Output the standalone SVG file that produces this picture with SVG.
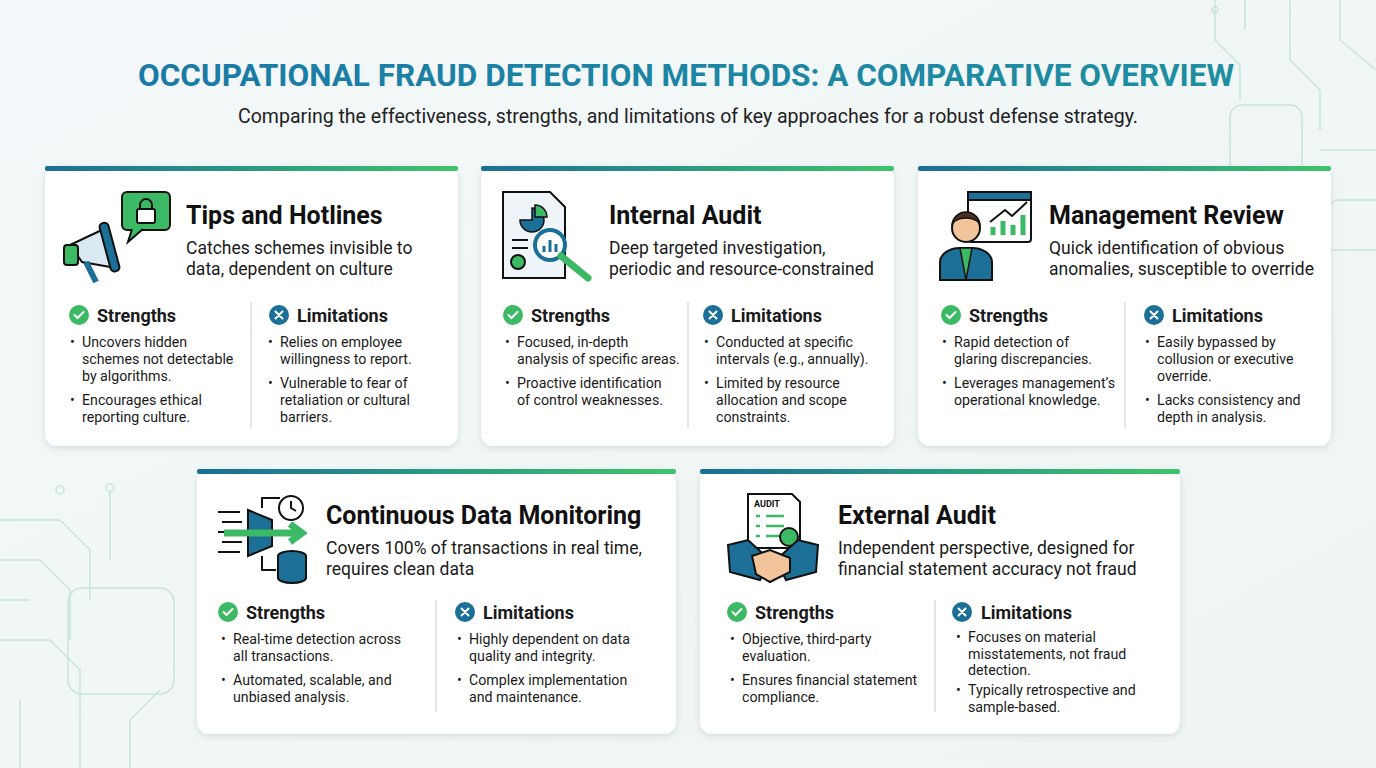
<svg xmlns="http://www.w3.org/2000/svg" width="1376" height="768" viewBox="0 0 1376 768">
<defs>
<linearGradient id="bg" x1="0" y1="0" x2="1" y2="1"><stop offset="0" stop-color="#f3f7f9"/><stop offset="1" stop-color="#eef5f3"/></linearGradient>
<linearGradient id="bar" x1="0" y1="0" x2="1" y2="0"><stop offset="0" stop-color="#1a6e96"/><stop offset="1" stop-color="#3ec46c"/></linearGradient>
<linearGradient id="ttl" x1="0" y1="0" x2="1" y2="0"><stop offset="0" stop-color="#1a7aa6"/><stop offset="1" stop-color="#1f8fa0"/></linearGradient>
<filter id="sh" x="-5%" y="-5%" width="110%" height="115%"><feDropShadow dx="0" dy="2" stdDeviation="3" flood-color="#8aa0a8" flood-opacity="0.3"/></filter>
<g id="chk"><circle r="10" fill="#3cb964"/><path d="M-4.5 0 L-1.5 3 L4.5 -3" stroke="#fff" stroke-width="2" fill="none" stroke-linecap="round"/></g>
<g id="xx"><circle r="10" fill="#1c6f96"/><path d="M-3.5 -3.5 L3.5 3.5 M3.5 -3.5 L-3.5 3.5" stroke="#fff" stroke-width="2" stroke-linecap="round"/></g>
</defs>
<style>
.card{fill:#fff}
.t{font-family:Roboto,"Liberation Sans",sans-serif;font-weight:bold;font-size:25px;fill:#111}
.s{font-family:Roboto,"Liberation Sans",sans-serif;font-size:17.5px;fill:#1a1a1a}
.h{font-family:Roboto,"Liberation Sans",sans-serif;font-weight:bold;font-size:18px;fill:#1a1a1a}
.b{font-family:Roboto,"Liberation Sans",sans-serif;font-size:14.2px;fill:#1a1a1a}
.dv{stroke:#dcdcdc;stroke-width:1.5}
.ck{fill:none;stroke:#bfe0d6;stroke-width:1.5}
.ln{fill:none;stroke:#111;stroke-width:2;stroke-linejoin:round}
</style>
<rect width="1376" height="768" fill="url(#bg)"/>
<g class="ck" opacity="0.8">
<path d="M0 520 H60 L90 550 V600 M0 560 H40 L70 590 V640 M0 600 H30 M0 640 H50 L80 670 V768 M20 768 V700 M110 490 V560 M130 768 V720 L160 690"/>
<rect x="68" y="588" width="106" height="106" rx="14"/>
<path d="M1215 0 V40 L1240 65 V100 M1245 0 V30 M1290 0 V60 L1320 90 V130 M1340 0 V40 L1376 70 M1376 150 H1320 M1376 200 H1335 L1310 225 M1376 250 H1320"/>
<rect x="1230" y="105" width="72" height="90" rx="12"/>
<circle cx="60" cy="490" r="4"/><circle cx="110" cy="488" r="4"/><circle cx="1215" cy="10" r="3"/>
</g>
<text x="138" y="86" textLength="1096" lengthAdjust="spacingAndGlyphs" font-family="Roboto,'Liberation Sans',sans-serif" font-weight="bold" font-size="31" fill="url(#ttl)">OCCUPATIONAL FRAUD DETECTION METHODS: A COMPARATIVE OVERVIEW</text>
<text x="238" y="123" textLength="900" lengthAdjust="spacingAndGlyphs" font-family="Roboto,'Liberation Sans',sans-serif" font-size="19.5" fill="#222">Comparing the effectiveness, strengths, and limitations of key approaches for a robust defense strategy.</text>

<g id="tips">
<rect x="45" y="166" width="413" height="280" rx="12" class="card" filter="url(#sh)"/>
<rect x="45" y="166" width="413" height="5" rx="2" fill="url(#bar)"/>
<rect x="122" y="192" width="48" height="38" rx="5" fill="#3cb964" stroke="#111" stroke-width="2"/><path d="M132 229 L128 242 L143 229" fill="#3cb964" stroke="#111" stroke-width="2"/>
<rect x="137" y="209" width="18" height="14" rx="2" fill="#fff" stroke="#111" stroke-width="2"/><path d="M140 209 v-4 a6 6 0 0 1 12 0 v4" class="ln"/>
<path d="M70 245 L106 228 L116 268 L82 262z" fill="#dbe9f3" stroke="#111" stroke-width="2"/><rect x="64" y="245" width="14" height="20" rx="3" fill="#3cb964" stroke="#111" stroke-width="2"/>
<rect x="105" y="222" width="9" height="50" rx="4" transform="rotate(-15 110 247)" fill="#1c6f96" stroke="#111" stroke-width="2"/><path d="M86 262 L96 282" stroke="#1c6f96" stroke-width="6"/>
<text x="186" y="224" class="t">Tips and Hotlines</text>
<text x="186" y="254" class="s">Catches schemes invisible to</text><text x="186" y="275" class="s">data, dependent on culture</text>
<use href="#chk" x="79" y="315"/><text x="97" y="322" class="h">Strengths</text>
<text class="b"><tspan x="70" y="347">•</tspan><tspan x="82" y="347">Uncovers hidden</tspan><tspan x="82" y="364">schemes not detectable</tspan><tspan x="82" y="381">by algorithms.</tspan><tspan x="70" y="405">•</tspan><tspan x="82" y="405">Encourages ethical</tspan><tspan x="82" y="422">reporting culture.</tspan></text>
<line x1="251" y1="302" x2="251" y2="428" class="dv"/>
<use href="#xx" x="279" y="315"/><text x="297" y="322" class="h">Limitations</text>
<text class="b"><tspan x="268" y="347">•</tspan><tspan x="280" y="347">Relies on employee</tspan><tspan x="280" y="364">willingness to report.</tspan><tspan x="268" y="388">•</tspan><tspan x="280" y="388">Vulnerable to fear of</tspan><tspan x="280" y="405">retaliation or cultural</tspan><tspan x="280" y="422">barriers.</tspan></text>
</g>

<g id="internal">
<rect x="481" y="166" width="413" height="280" rx="12" class="card" filter="url(#sh)"/>
<rect x="481" y="166" width="413" height="5" rx="2" fill="url(#bar)"/>
<path d="M503 192 H550 L565 207 V278 H503z" fill="#eef4f8" stroke="#111" stroke-width="2"/>
<path d="M520 220 a12 12 0 1 0 12 -12 v12z" fill="#1c6f96" stroke="#111" stroke-width="1.5"/><path d="M535 205 a12 12 0 0 1 12 12 h-12z" fill="#3cb964" stroke="#111" stroke-width="1.5"/>
<path d="M512 240 H528 M512 248 H528" stroke="#111" stroke-width="2"/>
<circle cx="518" cy="262" r="7" fill="#3cb964" stroke="#111" stroke-width="2"/>
<circle cx="550" cy="245" r="15" fill="#fff" stroke="#1c6f96" stroke-width="4"/><path d="M561 256 L588 278" stroke="#3cb964" stroke-width="7" stroke-linecap="round"/>
<path d="M544 252 v-6 M550 252 v-12 M556 252 v-8" stroke="#1c6f96" stroke-width="3"/>
<text x="609" y="224" class="t">Internal Audit</text>
<text x="609" y="254" class="s">Deep targeted investigation,</text><text x="609" y="275" class="s">periodic and resource-constrained</text>
<use href="#chk" x="513" y="315"/><text x="531" y="322" class="h">Strengths</text>
<text class="b"><tspan x="505" y="347">•</tspan><tspan x="517" y="347">Focused, in-depth</tspan><tspan x="517" y="364">analysis of specific areas.</tspan><tspan x="505" y="388">•</tspan><tspan x="517" y="388">Proactive identification</tspan><tspan x="517" y="405">of control weaknesses.</tspan></text>
<line x1="688" y1="302" x2="688" y2="428" class="dv"/>
<use href="#xx" x="713" y="315"/><text x="731" y="322" class="h">Limitations</text>
<text class="b"><tspan x="704" y="347">•</tspan><tspan x="716" y="347">Conducted at specific</tspan><tspan x="716" y="364">intervals (e.g., annually).</tspan><tspan x="704" y="388">•</tspan><tspan x="716" y="388">Limited by resource</tspan><tspan x="716" y="405">allocation and scope</tspan><tspan x="716" y="422">constraints.</tspan></text>
</g>

<g id="management">
<rect x="918" y="166" width="413" height="280" rx="12" class="card" filter="url(#sh)"/>
<rect x="918" y="166" width="413" height="5" rx="2" fill="url(#bar)"/>
<rect x="968" y="192" width="63" height="50" rx="3" fill="#fff" stroke="#111" stroke-width="2"/><rect x="968" y="192" width="63" height="8" fill="#1c6f96" stroke="#111" stroke-width="2"/>
<path d="M993 235 v-8 M1003 235 v-14 M1013 235 v-10 M1023 235 v-20" stroke="#3cb964" stroke-width="5"/><path d="M990 222 L1005 210 L1012 216 L1027 202" class="ln"/>
<path d="M940 280 v-18 a20 14 0 0 1 20 -14 h12 a20 14 0 0 1 20 14 v18z" fill="#1c6f96" stroke="#111" stroke-width="2"/>
<path d="M960 248 L966 280 L972 248z" fill="#3cb964" stroke="#111" stroke-width="1.5"/>
<circle cx="966" cy="228" r="14" fill="#f2c49a" stroke="#111" stroke-width="2"/><path d="M952 226 a14 14 0 0 1 28 0 a14 8 0 0 0 -28 0z" fill="#4a3020" stroke="#111" stroke-width="1.5"/>
<text x="1049" y="224" class="t">Management Review</text>
<text x="1049" y="254" class="s">Quick identification of obvious</text><text x="1049" y="275" class="s">anomalies, susceptible to override</text>
<use href="#chk" x="951" y="315"/><text x="969" y="322" class="h">Strengths</text>
<text class="b"><tspan x="942" y="347">•</tspan><tspan x="954" y="347">Rapid detection of</tspan><tspan x="954" y="364">glaring discrepancies.</tspan><tspan x="942" y="388">•</tspan><tspan x="954" y="388">Leverages management’s</tspan><tspan x="954" y="405">operational knowledge.</tspan></text>
<line x1="1125" y1="302" x2="1125" y2="428" class="dv"/>
<use href="#xx" x="1154" y="315"/><text x="1172" y="322" class="h">Limitations</text>
<text class="b"><tspan x="1145" y="347">•</tspan><tspan x="1157" y="347">Easily bypassed by</tspan><tspan x="1157" y="364">collusion or executive</tspan><tspan x="1157" y="381">override.</tspan><tspan x="1145" y="405">•</tspan><tspan x="1157" y="405">Lacks consistency and</tspan><tspan x="1157" y="422">depth in analysis.</tspan></text>
</g>

<g id="continuous">
<rect x="197" y="469" width="479" height="265" rx="12" class="card" filter="url(#sh)"/>
<rect x="197" y="469" width="479" height="5" rx="2" fill="url(#bar)"/>
<path d="M218 512 H240 M222 522 H242 M218 532 H244 M222 542 H242 M218 552 H240" stroke="#111" stroke-width="2"/>
<path d="M248 510 L272 520 V546 L248 556z" fill="#1c6f96" stroke="#111" stroke-width="2"/>
<path d="M224 533 H300 M290 524 L302 533 L290 542" stroke="#3cb964" stroke-width="7" fill="none"/>
<circle cx="291" cy="508" r="12" fill="#fff" stroke="#111" stroke-width="2"/><path d="M291 501 V508 L296 511" class="ln"/>
<ellipse cx="292" cy="556" rx="14" ry="5" fill="#1c6f96" stroke="#111" stroke-width="2"/><path d="M278 556 V578 a14 5 0 0 0 28 0 V556" fill="#1c6f96" stroke="#111" stroke-width="2"/>
<path d="M262 508 V498 H280 M262 556 V570 H276" class="ln"/>
<text x="326" y="524" class="t">Continuous Data Monitoring</text>
<text x="326" y="554" class="s">Covers 100% of transactions in real time,</text><text x="326" y="575" class="s">requires clean data</text>
<use href="#chk" x="228" y="612"/><text x="246" y="619" class="h">Strengths</text>
<text class="b"><tspan x="221" y="644">•</tspan><tspan x="233" y="644">Real-time detection across</tspan><tspan x="233" y="661">all transactions.</tspan><tspan x="221" y="685">•</tspan><tspan x="233" y="685">Automated, scalable, and</tspan><tspan x="233" y="702">unbiased analysis.</tspan></text>
<line x1="436" y1="600" x2="436" y2="712" class="dv"/>
<use href="#xx" x="465" y="612"/><text x="483" y="619" class="h">Limitations</text>
<text class="b"><tspan x="457" y="644">•</tspan><tspan x="469" y="644">Highly dependent on data</tspan><tspan x="469" y="661">quality and integrity.</tspan><tspan x="457" y="685">•</tspan><tspan x="469" y="685">Complex implementation</tspan><tspan x="469" y="702">and maintenance.</tspan></text>
</g>

<g id="external">
<rect x="700" y="469" width="480" height="265" rx="12" class="card" filter="url(#sh)"/>
<rect x="700" y="469" width="480" height="5" rx="2" fill="url(#bar)"/>
<path d="M748 494 H792 L800 502 V548 H748z" fill="#fff" stroke="#111" stroke-width="2"/>
<text x="754" y="507" font-family="Roboto,'Liberation Sans',sans-serif" font-weight="bold" font-size="9" fill="#111">AUDIT</text>
<path d="M756 516 h4 M756 526 h4 M756 536 h4 M766 516 h18 M766 526 h18 M766 536 h14" stroke="#3cb964" stroke-width="2.5"/>
<circle cx="789" cy="537" r="9" fill="#3cb964" stroke="#111" stroke-width="2"/>
<path d="M728 545 L748 540 L770 560 L760 580 L730 572z" fill="#1c6f96" stroke="#111" stroke-width="2"/>
<path d="M818 545 L798 540 L776 560 L786 580 L816 572z" fill="#1c6f96" stroke="#111" stroke-width="2"/>
<path d="M752 556 L770 550 L790 558 L790 572 L770 582 L756 574z" fill="#f2c49a" stroke="#111" stroke-width="2"/>
<text x="838" y="524" class="t">External Audit</text>
<text x="838" y="554" class="s">Independent perspective, designed for</text><text x="838" y="575" class="s">financial statement accuracy not fraud</text>
<use href="#chk" x="737" y="612"/><text x="755" y="619" class="h">Strengths</text>
<text class="b"><tspan x="730" y="644">•</tspan><tspan x="742" y="644">Objective, third-party</tspan><tspan x="742" y="661">evaluation.</tspan><tspan x="730" y="685">•</tspan><tspan x="742" y="685">Ensures financial statement</tspan><tspan x="742" y="702">compliance.</tspan></text>
<line x1="935" y1="600" x2="935" y2="712" class="dv"/>
<use href="#xx" x="962" y="612"/><text x="981" y="619" class="h">Limitations</text>
<text class="b"><tspan x="956" y="642">•</tspan><tspan x="968" y="642">Focuses on material</tspan><tspan x="968" y="659">misstatements, not fraud</tspan><tspan x="968" y="675">detection.</tspan><tspan x="956" y="695">•</tspan><tspan x="968" y="695">Typically retrospective and</tspan><tspan x="968" y="712">sample-based.</tspan></text>
</g>
<g id="connectors"/>
</svg>
